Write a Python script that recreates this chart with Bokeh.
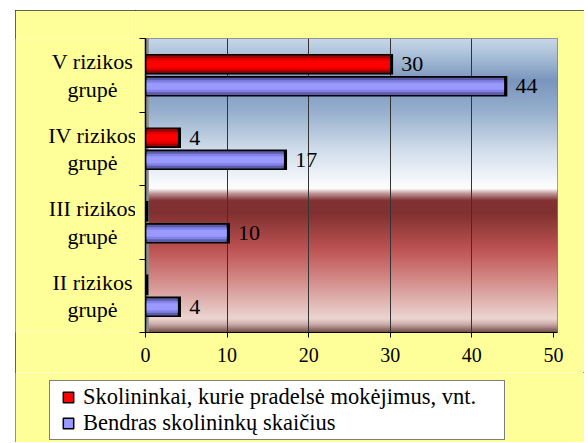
import numpy as np
from bokeh.plotting import figure
from bokeh.models import FixedTicker, Span, Legend, LegendItem, Spacer
from bokeh.layouts import row, column
from bokeh.embed import file_html
from bokeh.resources import INLINE
from bokeh.core.properties import value

# ---- data ----
categories = ["V rizikos grupė", "IV rizikos grupė", "III rizikos grupė", "II rizikos grupė"]
overdue = [30, 4, 0, 0]    # Skolininkai, kurie pradelsė mokėjimus, vnt.
total = [44, 17, 10, 4]    # Bendras skolininkų skaičius
series_names = ["Skolininkai, kurie pradelsė mokėjimus, vnt.", "Bendras skolininkų skaičius"]
x_ticks = [0, 10, 20, 30, 40, 50]

FONT = "Liberation Serif"
YELLOW = "#FFFF99"
n = len(categories)
ypos = np.array([n - 0.5 - i for i in range(n)])
XMAX = 50.5

# ---- main plot ----
p = figure(width=449, height=362, x_range=(0, XMAX), y_range=(0, n),
           output_backend="svg", toolbar_location=None, title=None,
           min_border_left=10, min_border_right=27, min_border_top=28, min_border_bottom=40)
p.border_fill_color = YELLOW
p.background_fill_color = "white"
p.outline_line_color = "#808080"

# background gradient (styling only)
stops = [0, 17, 42, 72, 112, 142, 150, 155, 162, 174, 212, 247, 280, 286, 294]
cols = [(200, 216, 232), (170, 192, 216), (122, 150, 190), (150, 175, 205), (210, 222, 235),
        (245, 248, 252), (255, 255, 255), (190, 150, 150), (130, 50, 50), (128, 48, 48),
        (192, 85, 85), (215, 150, 148), (236, 214, 210), (200, 170, 165), (110, 70, 70)]
H = 294
t = np.arange(H) + 0.5
img = np.empty((H, 1), dtype=np.uint32)
view = img.view(dtype=np.uint8).reshape((H, 1, 4))
for k in range(3):
    ch = np.interp(t, stops, [c[k] for c in cols])[::-1]
    view[:, 0, k] = ch.astype(np.uint8)
view[:, 0, 3] = 255
p.image_rgba(image=[img], x=0, y=0, dw=XMAX, dh=n, level="image")

p.add_layout(Span(location=0.22, dimension="height", line_color="#8c8c8c", line_width=3, level="underlay"))

p.xgrid.ticker = FixedTicker(ticks=x_ticks[1:-1])
p.xgrid.grid_line_color = "#333333"
p.xgrid.grid_line_width = 1
p.ygrid.visible = False

h = 0.28
off = 0.15


def draw_bars(vals, yc, dark, mid, light):
    v = np.array(vals, dtype=float)
    p.hbar(y=yc, left=0, right=v + 0.35, height=h, fill_color="black", line_color=None)
    inner_r = np.maximum(v - 0.05, 0.12)
    hi = h - 0.045
    p.hbar(y=yc, left=0.12, right=inner_r, height=hi, fill_color=dark, line_color=None)
    p.hbar(y=yc, left=0.12, right=inner_r, height=hi * 0.7, fill_color=mid, line_color=None)
    p.hbar(y=yc, left=0.12, right=inner_r, height=hi * 0.4, fill_color=light, line_color=None)
    idx = [i for i, x in enumerate(vals) if x > 0]
    p.text(x=[vals[i] for i in idx], y=[yc[i] for i in idx], text=[str(vals[i]) for i in idx],
           x_offset=11, text_align="left", text_baseline="middle",
           text_font=value(FONT), text_font_size="22px", text_color="black")


draw_bars(overdue, ypos + off, "#A00000", "#E00000", "#FF0000")
draw_bars(total, ypos - off, "#5C5CA8", "#8282E6", "#9999FF")

xa = p.xaxis[0]
xa.ticker = FixedTicker(ticks=x_ticks)
xa.major_tick_out = 5
xa.major_tick_in = 0
xa.minor_tick_out = 0
xa.minor_tick_in = 0
xa.axis_line_color = "black"
xa.major_tick_line_color = "black"
xa.major_label_text_font = FONT
xa.major_label_text_font_size = "20px"
xa.major_label_text_color = "black"
xa.major_label_standoff = 10

ya = p.yaxis[0]
bounds = list(range(n + 1))
ya.ticker = FixedTicker(ticks=bounds)
ya.major_label_overrides = {b: "" for b in bounds}
ya.major_tick_out = 6
ya.major_tick_in = 0
ya.minor_tick_out = 0
ya.minor_tick_in = 0
ya.major_tick_line_color = "black"
ya.axis_line_color = "black"
ya.axis_line_width = 1.5
ya.major_label_standoff = 0

# ---- category labels panel ----
pL = figure(width=120, height=362, x_range=(0, 120), y_range=p.y_range,
            output_backend="svg", toolbar_location=None, title=None,
            x_axis_type=None, y_axis_type=None,
            min_border_left=0, min_border_right=0, min_border_top=28, min_border_bottom=40)
pL.border_fill_color = YELLOW
pL.background_fill_color = YELLOW
pL.outline_line_color = None
pL.grid.visible = False
pL.text(x=[77] * n, y=list(ypos), text=[c.replace(" grupė", "\ngrupė") for c in categories],
        text_align="center", text_baseline="middle", text_line_height=1.1,
        text_font=value(FONT), text_font_size="22px", text_color="black")

# ---- legend panel ----
p2 = figure(width=569, height=70, x_range=(0, 1), y_range=(0, 1),
            output_backend="svg", toolbar_location=None, title=None,
            x_axis_type=None, y_axis_type=None, min_border=0)
p2.border_fill_color = YELLOW
p2.background_fill_color = YELLOW
p2.outline_line_color = None
p2.grid.visible = False
# legend proxies (kept outside the visible range)
r1 = p2.scatter(x=[-5], y=[-5], marker="square", size=10, fill_color="#FF0000", line_color="black", line_width=1.5)
r2 = p2.scatter(x=[-5], y=[-5], marker="square", size=10, fill_color="#9999FF", line_color="black", line_width=1.5)
legend = Legend(items=[LegendItem(label=series_names[0], renderers=[r1]),
                       LegendItem(label=series_names[1], renderers=[r2])],
                location=(34, 2), orientation="vertical")
legend.padding = 3
legend.spacing = 0
legend.margin = 0
legend.glyph_width = 30
legend.glyph_height = 26
legend.label_height = 25
legend.label_width = 418
legend.label_standoff = 0
legend.border_line_color = "black"
legend.border_line_width = 1
legend.background_fill_color = "white"
legend.background_fill_alpha = 1
legend.label_text_font = FONT
legend.label_text_font_size = "22.5px"
legend.label_text_color = "black"
p2.add_layout(legend)

inner = column(row(pL, p), p2, styles={"outline": "1px solid #303030", "outline-offset": "-1px"})
layout = column(Spacer(height=10), row(Spacer(width=15), inner))
open("out.html", "w").write(file_html(layout, INLINE))
